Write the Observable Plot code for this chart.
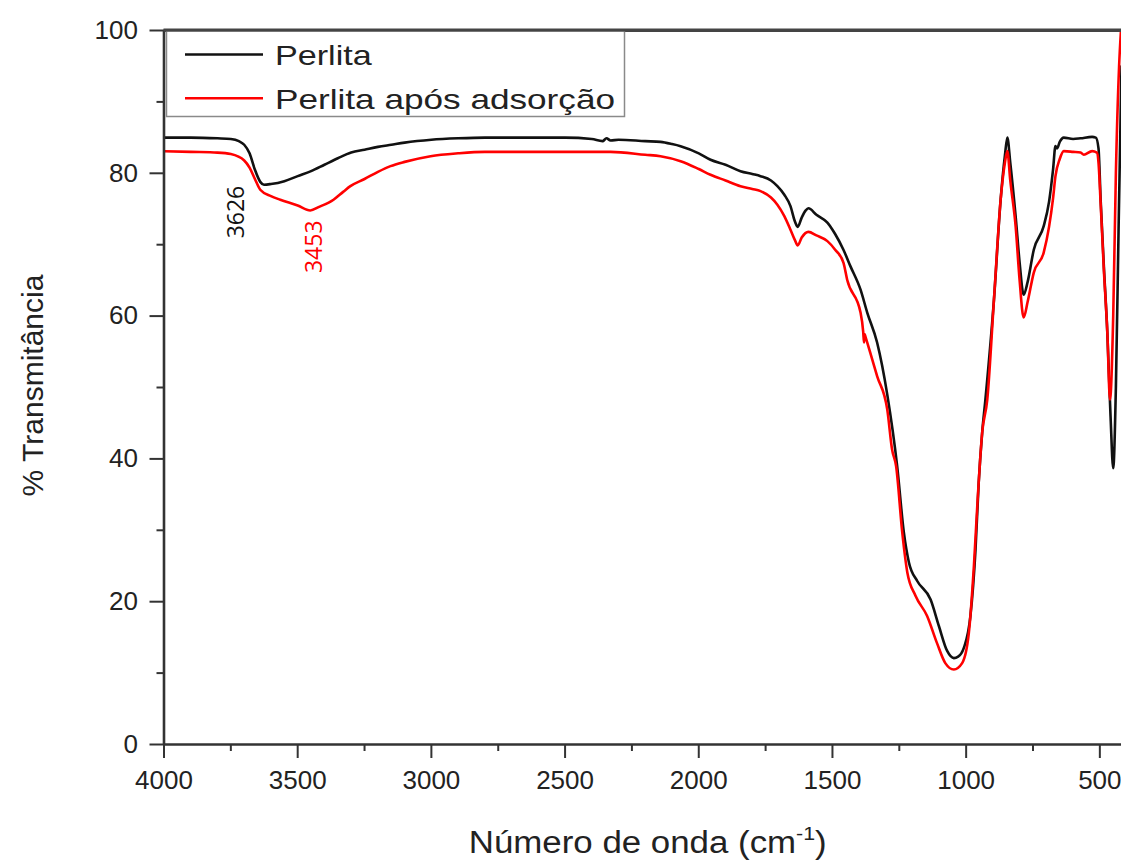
<!DOCTYPE html>
<html><head><meta charset="utf-8">
<script src="https://cdn.jsdelivr.net/npm/d3@7"></script>
<script src="https://cdn.jsdelivr.net/npm/@observablehq/plot@0.6"></script>
<style>
body{margin:0;background:#fff;}
#wrap{position:relative;width:1121px;height:861px;overflow:hidden;background:#fff;}
#legend{position:absolute;left:0;top:0;}
</style></head><body><div id="wrap"></div>
<script>
// ---- data (wavenumber cm-1, % transmittance) ----
const seriesNames = ["Perlita", "Perlita após adsorção"];
const seriesColors = ["#111111", "#ff0000"];

const perlita = [
[4000,85.0],[3900,85.0],[3800,84.9],[3750,84.8],[3720,84.5],[3700,84.0],[3680,82.8],[3660,80.5],[3640,78.8],[3626,78.4],
[3600,78.5],[3550,78.9],[3500,79.6],[3450,80.3],[3400,81.2],[3350,82.1],[3300,82.9],[3250,83.3],[3200,83.7],[3150,84.0],
[3100,84.3],[3000,84.7],[2900,84.9],[2800,85.0],[2600,85.0],[2500,85.0],[2400,84.8],[2360,84.5],[2345,84.9],[2330,84.6],
[2300,84.7],[2200,84.5],[2143,84.4],[2100,84.1],[2068,83.8],[2000,82.8],[1956,81.9],[1900,81.2],[1844,80.3],[1800,79.9],
[1769,79.6],[1730,79.0],[1706,78.2],[1680,77.0],[1657,75.4],[1640,73.2],[1630,72.5],[1615,73.8],[1600,74.8],[1590,75.1],
[1560,74.2],[1519,73.1],[1490,71.5],[1459,69.3],[1433,67.0],[1395,63.7],[1370,60.5],[1333,56.3],[1295,49.0],[1258,39.0],
[1233,29.7],[1214,25.5],[1183,22.9],[1133,20.3],[1102,16.6],[1071,13.1],[1046,12.1],[1030,12.3],[1009,13.5],[984,18.0],
[965,27.3],[953,36.7],[940,43.7],[928,48.3],[896,62.3],[871,76.3],[855,82.5],[846,85.0],[835,81.5],[815,74.0],
[800,67.5],[785,63.0],[770,64.8],[747,69.3],[710,72.6],[690,76.0],[675,80.5],[666,83.8],[660,83.5],[650,84.4],
[635,85.0],[600,84.8],[572,84.9],[529,85.1],[515,85.0],[505,83.5],[497,76.3],[485,67.0],[472,57.7],[460,46.0],
[450,38.7],[440,50.0],[430,72.0],[419,95.0]
];

const perlitaAposAdsorcao = [
[4000,83.1],[3900,83.0],[3800,82.9],[3750,82.7],[3700,81.8],[3680,80.8],[3660,79.2],[3640,77.7],[3600,76.8],[3565,76.3],
[3500,75.5],[3453,74.8],[3420,75.3],[3366,76.3],[3330,77.4],[3303,78.2],[3250,79.2],[3200,80.2],[3153,81.0],[3100,81.6],
[3003,82.4],[2900,82.8],[2800,83.0],[2500,83.0],[2330,83.0],[2200,82.6],[2143,82.4],[2068,81.7],[2000,80.6],[1956,79.8],
[1900,79.0],[1844,78.2],[1800,77.8],[1769,77.5],[1730,76.6],[1706,75.6],[1680,74.0],[1657,72.1],[1640,70.6],[1630,69.9],
[1615,71.0],[1590,71.8],[1560,71.3],[1519,70.5],[1490,69.3],[1459,67.5],[1445,65.1],[1395,60.5],[1385,57.8],[1382,56.3],
[1380,57.5],[1375,56.9],[1333,51.6],[1295,46.9],[1277,41.3],[1262,39.0],[1239,29.7],[1220,24.1],[1189,20.8],[1146,18.0],
[1109,14.2],[1078,11.4],[1046,10.5],[1015,11.4],[990,15.6],[971,25.0],[957,34.3],[940,43.7],[921,48.3],[896,62.3],
[871,76.3],[855,81.5],[846,83.1],[835,79.0],[815,72.6],[800,65.0],[785,59.8],[770,62.0],[747,66.1],[710,68.9],
[690,72.5],[675,76.5],[666,79.6],[650,82.0],[635,83.1],[600,83.0],[572,82.9],[560,82.6],[529,83.1],[511,82.9],
[505,81.5],[497,75.8],[485,66.5],[472,57.7],[462,48.3],[450,60.0],[440,80.0],[428,95.0],[421,100.0]
];

const peakLabels = [
  {w: 3626, t: 78.4, label: "3626"},
  {w: 3453, t: 74.8, label: "3453"}
];

const xMajorTicks = [4000, 3500, 3000, 2500, 2000, 1500, 1000, 500];
const xMinorTicks = [3750, 3250, 2750, 2250, 1750, 1250, 750];
const yMajorTicks = [0, 20, 40, 60, 80, 100];
const yMinorTicks = [10, 30, 50, 70, 90];

const xTitle = "Número de onda (cm-1)";
const yTitle = "% Transmitância";

// ---- build table ----
const toRows = (name, arr) => arr.map(([w, t]) => ({series: name, w, t}));
const data = [...toRows(seriesNames[0], perlita), ...toRows(seriesNames[1], perlitaAposAdsorcao)];

const font = '"Liberation Sans", Arial, sans-serif';
const axisColor = "#333";

const chart = Plot.plot({
  width: 1121, height: 861,
  marginLeft: 163.5, marginRight: 0, marginTop: 30, marginBottom: 117,
  style: {fontFamily: font, background: "#fff", color: "#222"},
  x: {domain: [4000, 419]},
  y: {domain: [0, 100]},
  color: {domain: seriesNames, range: seriesColors},
  marks: [
    Plot.line(data, {x: "w", y: "t", z: "series", stroke: "series", strokeWidth: 2.6, curve: "monotone-x", clip: true}),
    Plot.ruleY([100], {stroke: "#444", strokeWidth: 3}),
    Plot.ruleY([0], {stroke: axisColor, strokeWidth: 2.6}),
    Plot.ruleX([4000], {stroke: axisColor, strokeWidth: 2.6}),
    Plot.axisX({ticks: xMajorTicks, tickSize: 14, tickPadding: 12, fontSize: 26, label: null, tickFormat: d3.format("d"), stroke: axisColor, strokeWidth: 2}),
    Plot.axisX({ticks: xMinorTicks, tickSize: 7, text: null, label: null, stroke: axisColor, strokeWidth: 2}),
    Plot.axisY({ticks: yMajorTicks, tickSize: 14, tickPadding: 12, fontSize: 26, label: null, tickFormat: d3.format("d"), stroke: axisColor, strokeWidth: 2}),
    Plot.axisY({ticks: yMinorTicks, tickSize: 7, text: null, label: null, stroke: axisColor, strokeWidth: 2}),
    Plot.text([peakLabels[0]], {x: "w", y: "t", text: "label", rotate: -90, textAnchor: "end", fill: seriesColors[0], fontSize: 23, fontFamily: '"Open Sans", sans-serif', dx: -27.5, dy: 1}),
    Plot.text([peakLabels[1]], {x: "w", y: "t", text: "label", rotate: -90, textAnchor: "end", fill: seriesColors[1], fontSize: 23, fontFamily: '"Open Sans", sans-serif', dx: 4, dy: 10}),
    Plot.text([xTitle], {frameAnchor: "bottom", text: d => d, dy: 99, dx: 5, fontSize: 31, fill: "#222", lineAnchor: "middle", textAnchor: "middle"}),
    Plot.text([yTitle], {frameAnchor: "left", text: d => d, dx: -131, dy: -2, rotate: -90, fontSize: 30, fill: "#222", lineAnchor: "middle", textAnchor: "middle"})
  ]
});

document.getElementById("wrap").appendChild(chart);

// superscript in x title
d3.select(chart).selectAll("text").each(function() {
  if (this.textContent === xTitle) {
    const el = d3.select(this);
    el.text(null);
    el.attr("textLength", 358).attr("lengthAdjust", "spacingAndGlyphs");
    el.append("tspan").text("Número de onda (cm");
    el.append("tspan").attr("dy", -13).attr("font-size", 19).text("-1");
    el.append("tspan").attr("dy", 13).text(")");
  }
});

// legend box (inside plot frame, top-left)
const lg = d3.select("#wrap").append("svg").attr("id", "legend").attr("width", 1121).attr("height", 200);
lg.append("rect").attr("x", 166.5).attr("y", 31).attr("width", 458).attr("height", 85.5)
  .attr("fill", "#fff").attr("stroke", "#8a8a8a").attr("stroke-width", 1.5);
lg.append("line").attr("x1", 163.5).attr("x2", 1121).attr("y1", 30).attr("y2", 30).attr("stroke", "#444").attr("stroke-width", 3);
const legendRows = [{y: 54.5, tl: 96.7}, {y: 98.3, tl: 340}];
seriesNames.forEach((name, i) => {
  const r = legendRows[i];
  lg.append("line").attr("x1", 185).attr("x2", 263).attr("y1", r.y).attr("y2", r.y)
    .attr("stroke", seriesColors[i]).attr("stroke-width", 2.6);
  lg.append("text").attr("x", 275).attr("y", r.y + 10.5).attr("font-family", font).attr("font-size", 28)
    .attr("fill", "#222").attr("textLength", r.tl).attr("lengthAdjust", "spacingAndGlyphs").text(name);
});
</script>
</body></html>
